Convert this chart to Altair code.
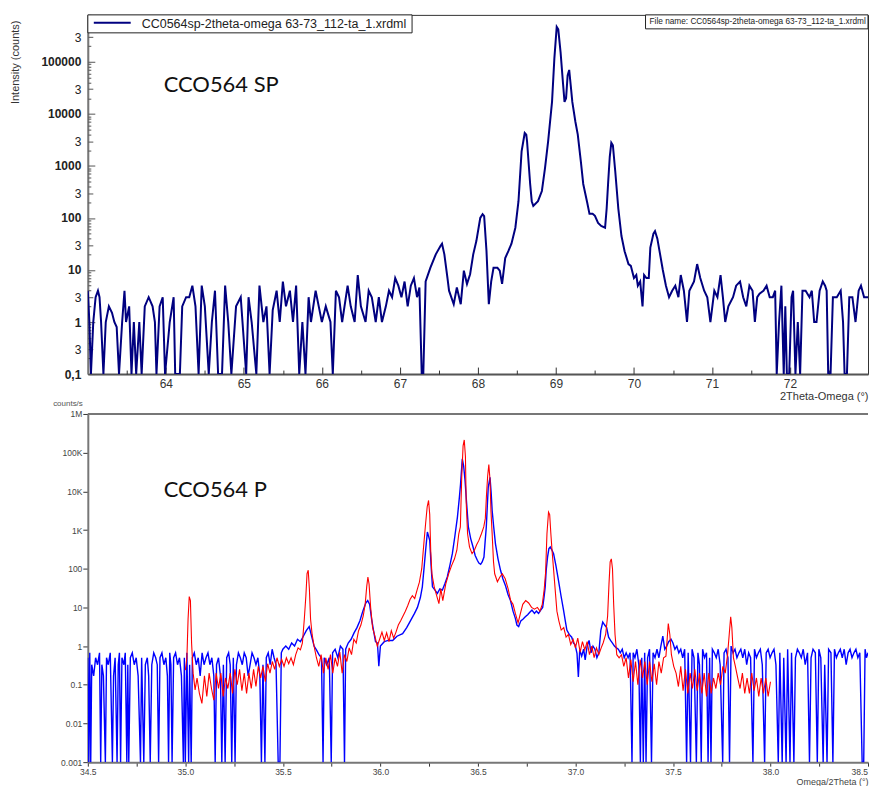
import altair as alt
import pandas as pd

# ---------------- data: top panel (2Theta-Omega scan, counts) ----------------
sp_points = [
    (63.00, 4), (63.02, 1), (63.04, 0.1), (63.07, 1), (63.10, 3), (63.13, 4), (63.15, 3), (63.17, 1),
    (63.20, 0.1), (63.23, 1), (63.27, 2), (63.31, 1.5), (63.34, 1), (63.37, 0.8), (63.40, 0.1), (63.44, 1),
    (63.47, 4), (63.49, 1), (63.53, 2), (63.56, 0.1), (63.59, 1), (63.62, 0.1), (63.66, 1), (63.69, 0.1),
    (63.73, 2), (63.78, 3), (63.83, 2), (63.86, 1), (63.88, 0.1), (63.92, 2), (63.96, 3), (63.99, 0.1),
    (64.05, 1), (64.10, 3), (64.12, 0.1), (64.18, 0.1), (64.21, 2), (64.26, 3), (64.30, 3), (64.34, 5),
    (64.38, 2), (64.42, 0.1), (64.46, 5), (64.50, 2), (64.55, 0.1), (64.59, 1), (64.63, 4), (64.67, 0.1),
    (64.72, 0.1), (64.76, 5), (64.80, 1), (64.84, 0.1), (64.90, 2), (64.96, 3), (65.03, 0.1), (65.06, 3),
    (65.10, 1), (65.16, 0.1), (65.20, 5), (65.25, 1), (65.29, 2), (65.33, 0.1), (65.37, 1.7), (65.42, 4),
    (65.46, 1), (65.50, 6), (65.54, 2), (65.59, 4), (65.63, 1), (65.67, 5), (65.71, 0.1), (65.75, 1),
    (65.79, 0.1), (65.83, 3), (65.86, 1), (65.92, 4), (65.96, 2), (66.00, 1), (66.05, 2), (66.11, 1),
    (66.14, 0.1), (66.18, 4), (66.22, 3), (66.26, 1), (66.33, 5), (66.37, 2), (66.42, 1), (66.46, 8),
    (66.50, 2), (66.56, 1), (66.60, 4), (66.64, 3), (66.69, 1), (66.73, 3), (66.77, 1), (66.82, 2),
    (66.86, 4), (66.90, 3), (66.94, 7), (66.98, 5), (67.02, 3), (67.06, 6), (67.10, 2), (67.14, 5),
    (67.18, 7), (67.22, 3), (67.25, 4.6), (67.28, 0.1), (67.30, 0.1), (67.33, 6), (67.39, 11), (67.46, 20),
    (67.52, 29), (67.54, 32), (67.57, 20), (67.61, 7), (67.63, 4), (67.69, 2.2), (67.73, 4.6), (67.78, 2.2),
    (67.82, 9.7), (67.86, 5.4), (67.90, 8.3), (67.94, 20), (67.98, 36), (68.03, 100), (68.06, 118), (68.08, 108),
    (68.11, 23), (68.14, 2.2), (68.17, 6), (68.20, 11), (68.25, 11), (68.28, 9.7), (68.31, 5.4), (68.35, 17),
    (68.39, 23), (68.43, 32), (68.48, 65), (68.52, 210), (68.56, 1900), (68.60, 4300), (68.62, 4000), (68.63, 2950),
    (68.67, 445), (68.69, 210), (68.71, 170), (68.77, 210), (68.82, 330), (68.86, 910), (68.90, 2950), (68.95, 17000),
    (68.98, 117000), (69.01, 470000), (69.03, 420000), (69.06, 150000), (69.09, 40000), (69.11, 17000), (69.13, 20000),
    (69.15, 55000), (69.17, 70000), (69.19, 35000), (69.21, 17000), (69.25, 7000), (69.28, 4000), (69.32, 1200),
    (69.35, 450), (69.40, 200), (69.43, 120), (69.47, 120), (69.50, 110), (69.54, 80), (69.58, 70), (69.63, 65),
    (69.65, 150), (69.67, 500), (69.69, 1500), (69.71, 2800), (69.73, 2500), (69.76, 800), (69.80, 150), (69.84, 45),
    (69.88, 23), (69.93, 13), (69.96, 12), (70.00, 7), (70.03, 8), (70.05, 5), (70.08, 6), (70.11, 2),
    (70.13, 8), (70.16, 7), (70.19, 7), (70.21, 27), (70.25, 50), (70.27, 56), (70.30, 40), (70.32, 27),
    (70.37, 10), (70.41, 5), (70.45, 3), (70.49, 4), (70.53, 5), (70.57, 3), (70.60, 8), (70.64, 4),
    (70.68, 1), (70.71, 4), (70.77, 6), (70.81, 13), (70.85, 7), (70.90, 4), (70.94, 3), (70.98, 1),
    (71.03, 4), (71.07, 3), (71.11, 8), (71.14, 3), (71.17, 1), (71.21, 2), (71.27, 3), (71.31, 5),
    (71.36, 6), (71.40, 3), (71.44, 2), (71.48, 5), (71.52, 4), (71.55, 1), (71.58, 3), (71.61, 3.5),
    (71.66, 4), (71.70, 5), (71.74, 3), (71.78, 3), (71.81, 4), (71.83, 0.1), (71.86, 1), (71.89, 5),
    (71.92, 0.1), (71.94, 2), (71.96, 0.1), (71.99, 0.1), (72.02, 3), (72.04, 4), (72.07, 0.1), (72.10, 1),
    (72.13, 0.1), (72.16, 4), (72.20, 4), (72.25, 3), (72.28, 4), (72.31, 1), (72.34, 1), (72.38, 4),
    (72.42, 6), (72.45, 5), (72.47, 4), (72.49, 0.1), (72.52, 0.1), (72.55, 3), (72.60, 3), (72.65, 4),
    (72.68, 1), (72.70, 0.1), (72.73, 0.1), (72.76, 3), (72.80, 3), (72.84, 1), (72.88, 4), (72.91, 5),
    (72.95, 3), (73.00, 3),
]

# ---------------- data: bottom panel (Omega/2Theta, counts/s) ----------------
p_blue_points = [
    (34.500, 0.5), (34.505, 0.001), (34.510, 0.67), (34.515, 0.001), (34.520, 0.33), (34.530, 0.17),
    (34.540, 0.5), (34.550, 0.33), (34.560, 0.67), (34.566, 0.001), (34.572, 0.33), (34.580, 0.17),
    (34.590, 0.001), (34.596, 0.5), (34.605, 0.33), (34.615, 0.67), (34.626, 0.001), (34.632, 0.17),
    (34.640, 0.5), (34.650, 0.001), (34.656, 0.33), (34.662, 0.67), (34.668, 0.001), (34.675, 0.5),
    (34.685, 0.33), (34.692, 0.67), (34.700, 0.001), (34.705, 0.33), (34.710, 0.001), (34.718, 0.5),
    (34.728, 0.67), (34.738, 0.33), (34.748, 0.5), (34.758, 0.17), (34.770, 0.001), (34.776, 0.5),
    (34.787, 0.001), (34.795, 0.33), (34.805, 0.5), (34.812, 0.17), (34.820, 0.001), (34.828, 0.33),
    (34.838, 0.67), (34.848, 0.5), (34.856, 0.33), (34.863, 0.001), (34.870, 0.5), (34.880, 0.67),
    (34.890, 0.33), (34.900, 0.5), (34.908, 0.17), (34.914, 0.001), (34.920, 0.67), (34.926, 0.33),
    (34.932, 0.001), (34.940, 0.5), (34.950, 0.67), (34.960, 0.33), (34.970, 0.5), (34.980, 0.17),
    (34.990, 0.001), (34.995, 0.5), (35.000, 0.001), (35.008, 0.67), (35.017, 0.001), (35.022, 0.33),
    (35.030, 0.001), (35.036, 0.5), (35.046, 0.67), (35.056, 0.33), (35.066, 0.5), (35.076, 0.17),
    (35.086, 0.67), (35.096, 0.33), (35.106, 0.5), (35.116, 0.67), (35.126, 0.33), (35.136, 0.5),
    (35.146, 0.17), (35.153, 0.001), (35.160, 0.33), (35.170, 0.5), (35.180, 0.17), (35.187, 0.001),
    (35.195, 0.33), (35.204, 0.001), (35.212, 0.5), (35.222, 0.67), (35.230, 0.33), (35.238, 0.001),
    (35.246, 0.5), (35.255, 0.001), (35.262, 0.33), (35.272, 0.67), (35.282, 0.5), (35.292, 0.33),
    (35.302, 0.67), (35.312, 0.5), (35.322, 0.17), (35.332, 0.33), (35.342, 0.67), (35.352, 0.5),
    (35.362, 0.33), (35.372, 0.5), (35.382, 0.17), (35.390, 0.001), (35.398, 0.33), (35.408, 0.001),
    (35.415, 0.5), (35.425, 0.67), (35.435, 0.33), (35.445, 0.83), (35.455, 0.5), (35.465, 0.33),
    (35.476, 0.001), (35.485, 0.001), (35.492, 0.67), (35.500, 0.83), (35.515, 1.0), (35.530, 0.83),
    (35.545, 1.2), (35.560, 1.0), (35.575, 1.5), (35.590, 1.3), (35.605, 1.8), (35.620, 2.5),
    (35.635, 3.2), (35.645, 2.0), (35.660, 1.0), (35.672, 0.8), (35.685, 0.6), (35.698, 0.5),
    (35.706, 0.001), (35.712, 0.5), (35.725, 0.33), (35.738, 0.5), (35.748, 0.001), (35.755, 0.67),
    (35.768, 0.83), (35.782, 0.5), (35.795, 1.0), (35.808, 0.83), (35.816, 0.001), (35.822, 0.83),
    (35.835, 1.2), (35.850, 1.5), (35.865, 2.2), (35.880, 3.0), (35.895, 4.5), (35.910, 8),
    (35.925, 13), (35.935, 15), (35.945, 12), (35.955, 5), (35.965, 2.5), (35.975, 1.3),
    (35.985, 1.2), (35.992, 0.3), (36.000, 1.0), (36.020, 1.3), (36.040, 1.4), (36.063, 1.4),
    (36.085, 1.8), (36.114, 2.1), (36.135, 3.0), (36.156, 4.7), (36.175, 7), (36.190, 10),
    (36.205, 18), (36.215, 34), (36.225, 120), (36.232, 300), (36.241, 890), (36.253, 540),
    (36.260, 120), (36.267, 34), (36.280, 28), (36.292, 23), (36.305, 30), (36.318, 28),
    (36.330, 40), (36.343, 61), (36.356, 120), (36.369, 245), (36.382, 700), (36.395, 2150),
    (36.405, 7000), (36.411, 15500), (36.420, 69000), (36.427, 45000), (36.434, 19000), (36.442, 5000),
    (36.451, 1200), (36.463, 600), (36.475, 363), (36.486, 220), (36.497, 165), (36.505, 140),
    (36.514, 130), (36.522, 150), (36.531, 200), (36.537, 500), (36.543, 1200), (36.548, 4000),
    (36.553, 12700), (36.562, 23000), (36.568, 9000), (36.573, 3200), (36.581, 1200), (36.590, 440),
    (36.603, 180), (36.616, 91), (36.628, 55), (36.641, 37), (36.654, 22), (36.667, 15),
    (36.680, 8), (36.692, 5.2), (36.700, 3.5), (36.709, 3.2), (36.720, 4.5), (36.732, 5),
    (36.743, 5.7), (36.755, 6.5), (36.766, 7.5), (36.777, 8.5), (36.790, 7), (36.800, 8),
    (36.811, 7), (36.822, 8.5), (36.832, 10), (36.840, 20), (36.845, 34), (36.850, 90),
    (36.857, 200), (36.864, 330), (36.871, 363), (36.880, 300), (36.888, 245), (36.900, 120),
    (36.913, 50), (36.926, 20), (36.939, 8.5), (36.948, 4.5), (36.956, 2.6), (36.968, 2.0),
    (36.981, 1.7), (36.990, 1.2), (36.998, 1.1), (37.008, 0.65), (37.015, 0.16), (37.022, 0.8),
    (37.032, 0.55), (37.042, 0.83), (37.050, 0.44), (37.060, 1.0), (37.070, 1.4), (37.080, 0.67),
    (37.090, 1.0), (37.100, 0.83), (37.110, 0.5), (37.120, 0.67), (37.130, 2.5), (37.140, 4.2),
    (37.150, 3.5), (37.160, 3.0), (37.170, 1.7), (37.180, 1.4), (37.190, 1.2), (37.200, 1.0),
    (37.210, 0.9), (37.220, 0.83), (37.230, 0.67), (37.240, 0.83), (37.250, 0.5), (37.260, 0.67),
    (37.270, 0.5), (37.280, 0.67), (37.290, 0.001), (37.296, 0.67), (37.305, 0.5), (37.315, 0.83),
    (37.325, 0.33), (37.333, 0.001), (37.340, 0.5), (37.348, 0.001), (37.355, 0.67), (37.362, 0.001),
    (37.370, 0.5), (37.380, 0.83), (37.390, 0.001), (37.398, 0.67), (37.408, 0.5), (37.418, 0.83),
    (37.428, 0.5), (37.438, 1.0), (37.448, 1.8), (37.458, 0.83), (37.468, 1.0), (37.478, 1.3),
    (37.490, 1.5), (37.500, 1.2), (37.510, 0.83), (37.520, 1.0), (37.530, 0.67), (37.540, 0.83),
    (37.550, 0.5), (37.560, 0.83), (37.570, 0.001), (37.578, 0.67), (37.590, 0.001), (37.598, 0.83),
    (37.608, 0.5), (37.620, 0.001), (37.628, 0.67), (37.636, 0.33), (37.645, 0.001), (37.652, 0.83),
    (37.662, 0.5), (37.672, 0.67), (37.680, 0.001), (37.688, 0.5), (37.695, 0.001), (37.702, 0.83),
    (37.712, 0.67), (37.722, 0.5), (37.732, 0.83), (37.742, 0.33), (37.755, 0.001), (37.762, 0.67),
    (37.772, 0.83), (37.782, 0.5), (37.790, 0.001), (37.798, 1.0), (37.808, 0.67), (37.818, 0.83),
    (37.828, 0.5), (37.838, 0.67), (37.848, 0.83), (37.858, 0.5), (37.868, 0.83), (37.878, 0.33),
    (37.888, 0.67), (37.898, 0.5), (37.910, 0.001), (37.918, 0.83), (37.928, 0.5), (37.938, 0.67),
    (37.948, 0.83), (37.958, 0.33), (37.970, 0.001), (37.978, 0.67), (37.988, 0.83), (37.998, 0.5),
    (38.008, 0.67), (38.018, 0.83), (38.028, 0.33), (38.040, 0.001), (38.048, 0.67), (38.060, 0.001),
    (38.068, 0.5), (38.080, 0.001), (38.088, 0.83), (38.100, 0.001), (38.108, 0.67), (38.120, 0.001),
    (38.128, 0.5), (38.138, 0.83), (38.148, 0.67), (38.158, 0.5), (38.168, 0.83), (38.178, 0.33),
    (38.190, 0.67), (38.200, 0.001), (38.208, 0.5), (38.218, 0.83), (38.230, 0.67), (38.240, 0.001),
    (38.248, 0.83), (38.258, 0.5), (38.270, 0.001), (38.278, 0.33), (38.290, 0.001), (38.298, 0.83),
    (38.310, 0.67), (38.320, 0.001), (38.328, 0.83), (38.338, 0.5), (38.348, 0.67), (38.358, 0.83),
    (38.368, 0.5), (38.378, 0.83), (38.388, 0.33), (38.398, 0.67), (38.408, 0.83), (38.418, 0.5),
    (38.428, 0.67), (38.438, 0.83), (38.448, 0.5), (38.458, 0.67), (38.470, 0.001), (38.478, 0.001),
    (38.485, 0.83), (38.492, 0.5), (38.500, 0.67),
]

p_red_points = [
    (35.000, 0.24), (35.008, 0.5), (35.014, 5), (35.020, 19), (35.026, 15), (35.032, 1.2),
    (35.040, 0.2), (35.050, 0.074), (35.060, 0.15), (35.072, 0.06), (35.085, 0.033), (35.098, 0.17),
    (35.110, 0.05), (35.122, 0.2), (35.134, 0.08), (35.146, 0.04), (35.158, 0.2), (35.170, 0.08),
    (35.182, 0.2), (35.194, 0.05), (35.206, 0.15), (35.218, 0.08), (35.230, 0.2), (35.242, 0.06),
    (35.254, 0.25), (35.266, 0.1), (35.278, 0.25), (35.290, 0.07), (35.302, 0.2), (35.314, 0.06),
    (35.326, 0.2), (35.338, 0.08), (35.350, 0.25), (35.362, 0.09), (35.374, 0.3), (35.386, 0.15),
    (35.398, 0.3), (35.410, 0.12), (35.422, 0.35), (35.434, 0.2), (35.446, 0.4), (35.458, 0.25),
    (35.470, 0.5), (35.482, 0.3), (35.494, 0.45), (35.506, 0.3), (35.518, 0.5), (35.530, 0.35),
    (35.542, 0.5), (35.554, 0.33), (35.566, 0.6), (35.578, 0.9), (35.590, 0.8), (35.600, 1.2),
    (35.610, 5), (35.618, 20), (35.624, 75), (35.630, 91), (35.636, 30), (35.642, 5),
    (35.650, 2), (35.660, 1.0), (35.672, 0.5), (35.684, 0.3), (35.696, 0.6), (35.708, 0.2),
    (35.720, 0.5), (35.732, 0.25), (35.744, 0.6), (35.756, 0.2), (35.768, 0.5), (35.780, 0.3),
    (35.792, 0.7), (35.804, 0.2), (35.816, 0.6), (35.828, 0.4), (35.840, 0.9), (35.852, 0.6),
    (35.864, 1.5), (35.876, 1.2), (35.888, 2.5), (35.900, 3.5), (35.912, 6), (35.922, 12),
    (35.930, 35), (35.936, 61), (35.942, 40), (35.950, 10), (35.960, 3), (35.972, 1.8),
    (35.984, 1.0), (35.996, 1.5), (36.008, 2.3), (36.020, 1.4), (36.032, 2.2), (36.044, 1.3),
    (36.056, 2.5), (36.068, 1.6), (36.080, 2.3), (36.092, 3.5), (36.104, 4.5), (36.116, 6),
    (36.128, 8), (36.140, 11), (36.152, 16), (36.164, 20), (36.176, 17), (36.188, 28),
    (36.200, 45), (36.212, 100), (36.222, 400), (36.232, 1500), (36.240, 4000), (36.247, 5800),
    (36.253, 2500), (36.258, 300), (36.264, 74), (36.276, 34), (36.290, 19), (36.300, 12.5),
    (36.310, 30), (36.320, 15), (36.335, 40), (36.350, 74), (36.365, 120), (36.380, 180),
    (36.392, 300), (36.402, 800), (36.410, 1200), (36.417, 23000), (36.424, 150000), (36.430, 213000),
    (36.436, 80000), (36.440, 5000), (36.447, 800), (36.457, 360), (36.470, 245), (36.482, 300),
    (36.494, 420), (36.505, 540), (36.518, 800), (36.530, 1200), (36.538, 2000), (36.544, 8000),
    (36.550, 25000), (36.556, 49000), (36.562, 20000), (36.567, 3000), (36.573, 800), (36.580, 150),
    (36.586, 74), (36.600, 46), (36.612, 60), (36.625, 74), (36.640, 55), (36.655, 30),
    (36.668, 15), (36.680, 12), (36.692, 7), (36.706, 4), (36.718, 7), (36.730, 12),
    (36.745, 15), (36.760, 13), (36.775, 10), (36.790, 9), (36.805, 10), (36.818, 8),
    (36.830, 12), (36.840, 30), (36.847, 80), (36.854, 800), (36.862, 2900), (36.868, 2500),
    (36.874, 800), (36.880, 300), (36.887, 110), (36.895, 34), (36.905, 8), (36.915, 4.5),
    (36.927, 2.6), (36.940, 3.0), (36.952, 1.7), (36.964, 2.0), (36.976, 1.1), (36.988, 1.5),
    (37.000, 0.9), (37.012, 1.6), (37.024, 0.7), (37.036, 1.3), (37.048, 0.8), (37.060, 1.3),
    (37.072, 0.6), (37.084, 1.0), (37.096, 0.5), (37.108, 0.9), (37.120, 0.6), (37.132, 0.9),
    (37.142, 1.2), (37.155, 2.0), (37.165, 6), (37.172, 40), (37.178, 150), (37.184, 180),
    (37.190, 100), (37.196, 12), (37.203, 2), (37.212, 0.6), (37.224, 0.5), (37.236, 0.6),
    (37.248, 0.3), (37.260, 0.5), (37.272, 0.15), (37.284, 0.45), (37.296, 0.12), (37.308, 0.4),
    (37.320, 0.1), (37.332, 0.45), (37.344, 0.15), (37.356, 0.4), (37.368, 0.1), (37.380, 0.4),
    (37.392, 0.12), (37.404, 0.35), (37.416, 0.1), (37.428, 0.4), (37.440, 0.2), (37.452, 0.5),
    (37.464, 0.55), (37.476, 3.8), (37.484, 2.0), (37.492, 0.6), (37.504, 0.3), (37.516, 0.2),
    (37.528, 0.09), (37.540, 0.3), (37.552, 0.07), (37.564, 0.25), (37.576, 0.06), (37.588, 0.2),
    (37.600, 0.08), (37.612, 0.25), (37.624, 0.07), (37.636, 0.2), (37.648, 0.06), (37.660, 0.2),
    (37.672, 0.05), (37.684, 0.2), (37.696, 0.06), (37.708, 0.15), (37.720, 0.08), (37.732, 0.2),
    (37.744, 0.1), (37.756, 0.3), (37.768, 0.2), (37.780, 0.6), (37.790, 2.5), (37.796, 5.7),
    (37.802, 3), (37.810, 0.5), (37.820, 0.3), (37.832, 0.15), (37.844, 0.08), (37.856, 0.2),
    (37.868, 0.06), (37.880, 0.15), (37.892, 0.06), (37.904, 0.2), (37.916, 0.07), (37.928, 0.15),
    (37.940, 0.05), (37.952, 0.15), (37.964, 0.06), (37.976, 0.15), (37.988, 0.05), (38.000, 0.12),
]

# ---------------- axis tick values / labels ----------------
top_x_labels = [64, 65, 66, 67, 68, 69, 70, 71, 72]
top_x_halves = [63.5, 64.5, 65.5, 66.5, 67.5, 68.5, 69.5, 70.5, 71.5, 72.5]
top_y_labels = [0.1, 0.3, 1, 3, 10, 30, 100, 300, 1000, 3000, 10000, 30000, 100000, 300000]
top_y_minor = [m * 10 ** e for e in range(-1, 6) for m in (2, 4, 5, 6, 7, 8, 9)]
bot_y_labels = [0.001, 0.01, 0.1, 1, 10, 100, 1000, 10000, 100000, 1000000]
bot_x_ticks = [34.5, 34.75, 35.0, 35.25, 35.5, 35.75, 36.0, 36.25, 36.5, 36.75, 37.0,
               37.25, 37.5, 37.75, 38.0, 38.25, 38.5]

legend_text = "CC0564sp-2theta-omega 63-73_112-ta_1.xrdml"
file_text = "File name: CC0564sp-2theta-omega 63-73_112-ta_1.xrdml"

top_df = pd.DataFrame(sp_points, columns=["theta", "counts"])
blue_df = pd.DataFrame(p_blue_points, columns=["theta", "cps"])
red_df = pd.DataFrame(p_red_points, columns=["theta", "cps"])
one = alt.Data(values=[{"k": 1}])

W = 782
H1 = 360
H2 = 349
FONT = "Liberation Sans"

# ================= top panel =================
x_top = alt.Scale(domain=[63, 73], nice=False, zero=False)
y_top = alt.Scale(type="log", domain=[0.1, 800000], nice=False)

decade_test = "abs(log(datum.value)/LN10 - round(log(datum.value)/LN10)) < 0.2"

line_sp = alt.Chart(top_df).mark_line(color="#000080", strokeWidth=2, clip=True).encode(
    x=alt.X("theta:Q", scale=x_top, axis=alt.Axis(
        values=top_x_labels, format="d", ticks=False, labelFontSize=12, labelColor="#333",
        labelFont=FONT, labelPadding=4, labelFlush=False, labelOverlap=False,
        domainColor="#555", domainWidth=2, grid=False,
        title="2Theta-Omega (°)", titleFont=FONT, titleFontSize=11, titleFontWeight="normal",
        titleColor="#333", titleX=W, titleY=23, titleAlign="right", titleBaseline="middle")),
    y=alt.Y("counts:Q", scale=y_top, axis=alt.Axis(
        values=top_y_labels,
        labelExpr="datum.value < 0.15 ? '0,1' : (abs(log(datum.value)/LN10 - round(log(datum.value)/LN10)) > 0.2 ? '3' : format(datum.value, 'd'))",
        labelFontWeight={"condition": {"test": decade_test, "value": "bold"}, "value": "normal"},
        ticks=False, labelFontSize=12, labelFont=FONT, labelColor="#222", labelPadding=7,
        labelOverlap=False, labelFlush=False,
        domainColor="#777", domainWidth=2, grid=False,
        title="Intensity (counts)", titleFont=FONT, titleFontSize=11, titleFontWeight="normal",
        titleColor="#333", titleX=-72, titleY=47, titleAngle=270, titleAlign="center",
        titleBaseline="middle", minExtent=79)),
)


def ytick_layer(vals, size):
    return alt.Chart(top_df).mark_line(strokeOpacity=0).encode(
        x=alt.X("theta:Q", scale=x_top, axis=None),
        y=alt.Y("counts:Q", scale=y_top, axis=alt.Axis(
            orient="right", offset=-W, values=vals, labels=False, domain=False,
            tickSize=size, tickColor="#555", tickWidth=1, grid=False, title=None)),
    )


def xtick_layer(vals, size):
    return alt.Chart(top_df).mark_line(strokeOpacity=0).encode(
        x=alt.X("theta:Q", scale=x_top, axis=alt.Axis(
            orient="top", offset=-H1, values=vals, labels=False, domain=False,
            tickSize=size, tickColor="#333", tickWidth=1, grid=False, title=None)),
        y=alt.Y("counts:Q", scale=y_top, axis=None),
    )


legend_box = alt.Chart(one).mark_rect(fill="white", stroke="#222", strokeWidth=1).encode(
    x=alt.value(0), x2=alt.value(325), y=alt.value(0), y2=alt.value(18))
legend_line = alt.Chart(one).mark_rule(color="#000080", strokeWidth=2).encode(
    x=alt.value(6), x2=alt.value(43), y=alt.value(8))
legend_label = alt.Chart(one).mark_text(align="left", baseline="middle", font=FONT,
                                        fontSize=12.5, color="#222").encode(
    x=alt.value(54), y=alt.value(9), text=alt.value(legend_text))
file_box = alt.Chart(one).mark_rect(fill="white", stroke="#222", strokeWidth=1).encode(
    x=alt.value(559), x2=alt.value(W), y=alt.value(0), y2=alt.value(14))
file_label = alt.Chart(one).mark_text(align="left", baseline="middle", font=FONT,
                                      fontSize=8.3, color="#222").encode(
    x=alt.value(563), y=alt.value(7.5), text=alt.value(file_text))
sp_title = alt.Chart(one).mark_text(align="left", baseline="middle", font="Lato",
                                    fontSize=22, color="#111").encode(
    x=alt.value(76), y=alt.value(70), text=alt.value("CCO564 SP"))

top = alt.layer(
    line_sp,
    ytick_layer([0.1, 1, 10, 100, 1000, 10000, 100000], 7),
    ytick_layer([0.3, 3, 30, 300, 3000, 30000, 300000], 5),
    ytick_layer(top_y_minor, 3),
    xtick_layer(top_x_labels, 7),
    xtick_layer(top_x_halves, 4),
    legend_box, legend_line, legend_label, file_box, file_label, sp_title,
).resolve_axis(x="independent", y="independent").properties(
    width=W, height=H1, view=alt.ViewBackground(stroke="#333", strokeWidth=1))

# ================= bottom panel =================
x_bot = alt.Scale(domain=[34.5, 38.5], nice=False, zero=False)
y_bot = alt.Scale(type="log", domain=[0.001, 1000000], nice=False)

x_axis_bot = alt.Axis(
    values=bot_x_ticks,
    labelExpr="(datum.value * 4) % 2 == 0 && datum.value < 38.4 ? format(datum.value, '.1f') : ''",
    tickSize=4, tickColor="#333", labelFontSize=8.5, labelFont=FONT, labelColor="#444",
    labelPadding=1, labelFlush=False, labelOverlap=False, domainColor="#777", domainWidth=2,
    grid=False, title="Omega/2Theta (°)", titleFont=FONT, titleFontSize=9,
    titleFontWeight="normal", titleColor="#444", titleX=W, titleY=19, titleAlign="right",
    titleBaseline="middle")
y_axis_bot = alt.Axis(
    values=bot_y_labels,
    labelExpr="datum.value >= 1000000 ? '1M' : (datum.value >= 1000 ? format(datum.value / 1000, 'd') + 'K' : (datum.value >= 1 ? format(datum.value, 'd') : format(datum.value, '~g')))",
    tickSize=5, tickColor="#333", labelFontSize=8.5, labelFont=FONT, labelColor="#444",
    labelPadding=1, labelOverlap=False, labelFlush=False, domainColor="#777", domainWidth=2,
    grid=False, title=None, minExtent=79)

blue = alt.Chart(blue_df).mark_line(color="#0000FF", strokeWidth=1.4, clip=True).encode(
    x=alt.X("theta:Q", scale=x_bot, axis=x_axis_bot),
    y=alt.Y("cps:Q", scale=y_bot, axis=y_axis_bot),
)
red = alt.Chart(red_df).mark_line(color="#FF0000", strokeWidth=1.1, clip=True).encode(
    x=alt.X("theta:Q", scale=x_bot, axis=x_axis_bot),
    y=alt.Y("cps:Q", scale=y_bot, axis=y_axis_bot),
)
top_border = alt.Chart(one).mark_rule(color="#777", strokeWidth=2).encode(
    x=alt.value(0), x2=alt.value(W), y=alt.value(0))
cps_label = alt.Chart(one).mark_text(align="right", baseline="middle", font=FONT,
                                     fontSize=8, color="#555").encode(
    x=alt.value(-5), y=alt.value(-10), text=alt.value("counts/s"))
last_tick_label = alt.Chart(one).mark_text(align="right", baseline="middle", font=FONT,
                                           fontSize=8.5, color="#444").encode(
    x=alt.value(W), y=alt.value(H2 + 10), text=alt.value("38.5"))
p_title = alt.Chart(one).mark_text(align="left", baseline="middle", font="Lato",
                                   fontSize=22, color="#111").encode(
    x=alt.value(76), y=alt.value(76), text=alt.value("CCO564 P"))

bottom = alt.layer(blue, red, top_border, cps_label, last_tick_label, p_title).properties(
    width=W, height=H2, view=alt.ViewBackground(stroke="transparent"))

chart = alt.vconcat(top, bottom, spacing=40, bounds="flush").properties(
    padding={"left": 0, "top": 5, "right": 0, "bottom": 0}
).configure(font=FONT, background="white")

chart.save("out.html", embed_options={"renderer": "svg", "actions": False})
